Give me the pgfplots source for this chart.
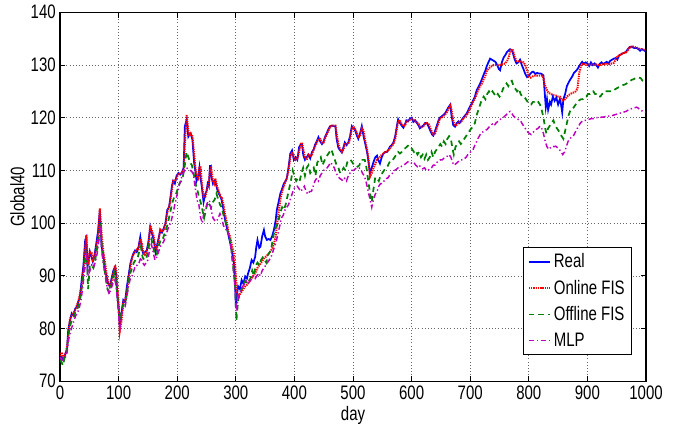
\documentclass[border=0pt]{standalone}
\usepackage{pgfplots}
\usepackage{pgfplotstable}
\usepackage{graphicx}
\usepackage{fontspec}
\setmainfont{Liberation Sans}
\pgfplotsset{compat=1.18}
\usetikzlibrary{calc}
\newcommand{\vs}[1]{\scalebox{1}[1.3]{#1}}
\newcommand{\lf}{\fontsize{11.25}{13}\selectfont}

\pgfplotstableread{
x y
0 74.5
3 74.6
6 74
9 75.2
12 76
14 79.7
17 81.5
20 82.9
23 82.5
26 83.8
29 84.2
31 85
34 86
37 89.2
40 92
43 96.8
45 97.3
47 91.7
49 93
51 94.6
54 93.5
56 92.7
59 94
62 96.2
65 98.5
68 102.5
71 95.5
74 94
77 91.1
80 89.5
82 88.6
85 88
88 89.5
91 91
94 91.7
96 90
98 86
100 84
102 80.3
105 83
108 85.4
111 85
114 87.9
117 90
120 92.3
123 93.5
125 94.2
128 94.8
131 94.5
134 95.5
137 97.4
140 95
142 94.2
145 94.5
148 94.8
151 96.5
154 99.3
157 98
160 96.8
163 94.5
165 95.5
168 97
171 98.6
174 98.2
177 99
180 100
183 102.5
186 103
188 104.5
191 107
193 108
196 107.5
199 109
202 109.5
205 109.2
208 109.6
211 110.5
213 118.3
216 119.6
219 116.4
221 116.8
223 117
226 115.8
229 111.3
231 110
233 108
236 109
238 110.6
240 108.5
242 106.9
245 104
248 105.6
250 106
252 107.5
254 107
256 111
258 109
261 107.5
263 108
265 108
268 106.5
271 105.6
274 105
276 104.3
279 102.5
282 100.5
285 99
288 97.4
290 96.5
293 94.8
295 93.5
297 92.3
299 88
300 84.1
302 86.5
304 88
307 87.5
310 89.2
313 88.5
316 89.9
319 89.5
321 90.5
324 91.5
327 93
330 92.5
333 93.6
335 95.5
337 96.8
340 95.3
342 95.5
345 97.5
348 98.7
350 97.5
353 96.8
356 97
359 96.8
362 97.5
365 98.7
368 100.5
370 102.5
373 104
376 105.6
379 106.5
382 107.5
385 108
387 108.5
390 110.6
393 113.2
396 113.8
399 112
402 112.5
405 112
408 114.4
411 115
413 115
415 113
418 112
421 112.5
424 113
427 112.3
430 113.5
433 114
435 114.8
438 115.5
441 116.3
444 115.5
447 115
450 115.5
452 116.3
455 117
458 117.8
461 118.4
464 118.5
467 118.4
470 118.4
472 116
475 114.3
478 113.8
481 113.4
484 114.5
486 115.3
489 114.8
492 115.3
495 116.5
498 118.4
501 118
504 117.5
507 116.5
509 116
512 117
515 118.4
518 116.5
521 115
524 113.5
526 112
529 109.4
532 110.5
535 111.6
538 112.5
541 112.8
543 112
546 111.3
549 112.5
552 113.2
555 113.5
558 113.5
560 113.8
563 114.5
566 114.8
569 115.3
572 116.5
575 118.5
577 119.7
580 119
583 118.5
586 118.1
589 118.8
591 119.5
594 119.3
597 119.8
600 120
603 119.2
606 119.5
609 119
612 118.5
614 118
617 118.3
620 118.5
623 119
626 119
629 118.3
632 117.5
635 116.8
637 116.6
640 117.5
643 118.5
646 119.5
648 120
651 120.2
654 120.5
657 120.8
660 121.4
663 122
666 122.5
668 120.5
671 118.6
674 118.3
677 119
680 119.3
682 119
685 119.5
688 120
691 120.4
694 120.8
697 121.5
700 122.2
703 122.8
705 123.3
708 124
711 125.2
714 125.8
717 126.5
720 127.3
723 128.2
726 129
728 129.7
731 130.5
734 131.2
737 131
740 130.8
743 130.6
746 130
749 129.2
751 129
754 130.5
757 131.4
760 131.9
763 132.5
766 132.8
768 133
771 132.8
773 132.2
776 131
779 130.3
782 130.5
785 131
788 130
791 129.2
794 128.3
797 127.7
800 127.9
803 128.4
806 128.7
808 128.7
811 128.3
814 128.5
817 128.4
820 128.4
823 128.2
825 128
827 125
829 122
831 123.5
833 121.5
836 123
838 122.5
841 124
844 123.2
847 123.8
850 122.5
853 123.5
855 122.5
857 121
859 123.5
862 124.5
865 126
868 126.7
871 127.3
874 127.8
877 128.5
880 128.8
883 129.2
886 129.8
889 130.3
891 130.6
894 130.2
897 130.5
900 130.3
903 129.8
906 130.5
909 130
912 130.3
915 130
918 129.5
921 130.2
924 130.5
927 130.2
930 130.4
933 130.6
936 130.3
939 130.8
942 131
945 131.2
948 131.3
951 131
954 131.8
957 132
960 132.2
963 132.3
966 132.5
969 133
972 133.4
975 133.5
978 133.3
981 133.2
984 133.2
987 133
990 132.7
993 133
996 132.8
999 132.6
}\realdata

\pgfplotstableread{
x y
0 74.8
3 75.5
6 74.5
9 75
12 76.5
14 78.5
17 81.8
20 82.5
23 83
26 83.5
29 84.5
31 85
34 86.5
37 88
40 91
43 95.5
45 97.8
47 93
49 92.5
51 94.5
54 94.5
56 93
59 93.5
62 95.5
65 97.5
68 102.8
71 98
74 94.5
77 92.5
80 90
82 89
85 88
88 89
91 90.5
94 92
96 91
98 88
100 85
102 79.5
105 81.5
108 85
111 85.5
114 86.5
117 89.5
120 91.5
123 93.5
125 94
128 94.5
131 95
134 95
137 97
140 96
142 94.5
145 94
148 94.5
151 96
154 99.6
157 98.5
160 97.5
163 95
165 95
168 96.5
171 98.8
174 98.5
177 98.8
180 99.8
183 102
186 103
188 104
191 106.5
193 108
196 108
199 108.5
202 109.5
205 109.3
208 109.5
211 110
213 115
216 120.5
219 117.5
221 116.5
223 117
226 116.5
229 113
231 110.5
233 109
236 108.5
238 110.5
240 110.8
242 107.5
245 105
248 105
250 106
252 107
254 107.5
256 110
258 110.5
261 108
263 107.5
265 108.5
268 107
271 106
274 105
276 104.8
279 103.5
282 101.5
285 100
288 98
290 97.5
293 96
295 95
297 94
299 92
300 90
302 87
304 86.2
307 86.5
310 87
313 87.5
316 88
319 88.3
321 88.6
324 89
327 89.5
330 90
333 90.5
335 91
337 91.5
340 92
342 92.3
345 92.8
348 93.3
350 93.5
353 93.8
356 94.2
359 94.6
362 95.2
365 96
368 97.5
370 99.5
373 102
376 104.5
379 106
382 107
385 108
387 108.5
390 110
393 112.5
396 113.5
399 112.5
402 112
405 112.3
408 113.5
411 115
413 115.3
415 114
418 112.5
421 112
424 113
427 112.8
430 113
433 114
435 114.5
438 115.2
441 116
444 116
447 115.2
450 115.3
452 116
455 116.8
458 117.5
461 118.3
464 118.5
467 118.5
470 118.5
472 117
475 115
478 114
481 113.5
484 114
486 115
489 115
492 115
495 116
498 118
501 118.3
504 117.8
507 117
509 116.3
512 116.5
515 118
518 117.5
521 115.5
524 114
526 112.5
529 108.8
532 109.5
535 110.5
538 111.2
541 112
543 112.3
546 112.5
549 113
552 113.2
555 113.5
558 113.6
560 113.8
563 114.2
566 114.6
569 115
572 116
575 118
577 119.3
580 119.5
583 118.8
586 118.4
589 118.5
591 119.2
594 119.5
597 119.6
600 119.8
603 119.6
606 119.3
609 119.2
612 118.8
614 118.3
617 118.2
620 118.4
623 118.8
626 119
629 118.8
632 118
635 117.2
637 116.8
640 117
643 118
646 119
648 119.8
651 120
654 120.3
657 120.6
660 121
663 121.7
666 122.3
668 121.5
671 119.5
674 118.5
677 118.6
680 119.1
682 119.2
685 119.3
688 119.8
691 120.2
694 120.5
697 121
700 121.8
703 122.5
705 123
708 123.6
711 124.5
714 125.3
717 126
720 126.5
723 127.3
726 128
728 128.8
731 129.3
734 129.6
737 129.8
740 130
743 130
746 130
749 130
751 130
754 130.1
757 130.2
760 130.3
763 130.8
766 131.5
768 132.5
771 133
773 132.8
776 131.5
779 130.8
782 130.7
785 130.7
788 130.6
791 130.5
794 130
797 129
800 127.8
803 127.6
806 127.8
808 127.9
811 128
814 128
817 128
820 128
823 128
825 127.5
827 126.3
829 125.8
831 125.2
833 124.8
836 124.6
838 124.5
841 124.3
844 124.2
847 124.2
850 124
853 124
855 123.7
857 123.3
859 123.3
862 123.5
865 124
868 124.3
871 124.5
874 124.7
877 124.8
880 125
883 125.5
886 128.5
889 129.8
891 130.2
894 130.2
897 130.1
900 130
903 130.1
906 130.1
909 130
912 130.1
915 130.1
918 130
921 130
924 130.1
927 130.1
930 130.1
933 130.2
936 130.1
939 130.2
942 130.3
945 130.4
948 131
951 131.7
954 131.8
957 132
960 132.2
963 132.3
966 132.4
969 132.8
972 133.3
975 133.4
978 133.5
981 133.4
984 133.3
987 133.2
990 133
993 133
996 132.9
999 132.8
}\onlinedata

\pgfplotstableread{
x y
0 74
3 73.5
5 73
8 74.5
11 75
14 78.5
17 80.5
20 81.5
23 82
26 83
29 83.5
32 84.5
35 86
38 88.5
41 91
44 94.5
46 93
48 87.5
51 92
54 92
57 91.5
60 93
63 95
66 97
69 100
72 94.5
75 92
78 89.5
81 87.5
84 87
87 88
90 89.5
93 90.5
96 88.5
99 85
102 81.5
105 83.5
108 84.5
111 84.5
114 86.5
117 89
120 90.5
123 91.5
126 92.5
129 93
132 93.2
135 94.5
138 95.5
141 93.5
144 93
147 93.2
150 94.5
153 96.5
156 97
159 95.5
162 94
165 94
168 95.5
171 96.5
174 96.5
177 97.5
180 98.5
183 99.5
186 101
189 102.5
192 104
195 105
198 105.5
201 106.5
204 107.5
207 108
210 109
213 111
216 113.5
219 112.5
222 111.5
225 111
228 109.5
231 107.5
234 106.5
237 105
240 104
243 102.5
246 101
249 102.5
252 104
255 103.5
258 103
261 104
264 104.5
267 105.6
270 104.5
273 103.5
276 103
279 101.5
282 100.5
285 99
288 97.5
291 96.5
294 93.5
297 90
299 88
301 81.5
304 85.5
307 86.5
310 87.5
313 88.5
316 89
319 88.5
322 89
325 89.5
328 91
331 90
334 92
337 92.5
340 92
343 93
346 93.5
349 93
352 92.5
355 94
358 94.5
361 95.5
364 97.5
367 99
370 99.5
373 100.5
376 102
379 103
382 102.5
385 103.5
388 105
391 106.5
394 108
397 110
400 109
403 108
406 108.5
409 108
412 109.5
415 110.5
418 109
421 110.5
424 111
427 109.5
430 110
433 110.5
436 109
439 111.5
442 112
445 112.5
448 111
451 111.8
454 112.5
457 113
460 113.5
463 114
466 113
469 112
472 111
475 110.5
478 109.5
481 110
484 110.5
487 110
490 111.5
493 112
496 112
499 111.5
502 111
505 111
508 110.7
511 111
514 112
517 112
520 112
523 110.5
526 108
528 106.5
530 105
532 104
535 106.5
538 108.7
541 108.5
544 108
547 109
550 109.5
553 110
556 110.5
559 110.8
562 111.5
565 112
568 112
571 112.5
574 113
577 113.5
580 113.2
583 113.5
586 114
589 114.2
592 114.5
595 114.8
598 114.5
601 114
604 113.5
607 113.8
610 113
613 113.5
616 112.5
619 113
622 112.2
625 113
628 112
631 112.5
634 113.5
637 112.5
640 113.5
643 114
646 114.5
649 115
652 114.5
655 115.5
658 115
661 116
664 116.5
667 116
670 114
672 113
675 114.5
678 115
681 115.5
684 115
687 115.5
690 116
693 116.5
696 117
699 117.5
702 118
705 118.2
708 119
711 120.5
714 121.5
717 122.5
720 123.5
723 124
726 123.5
729 124.5
732 125
735 124.5
738 125
741 124.5
744 124
747 124.5
750 124
753 124.5
756 125.5
759 126
762 126.5
765 126
768 126.8
771 127
774 126
777 125.5
780 125
783 125.5
786 124.5
789 124
792 124
795 123.5
798 123
801 122.6
804 122.5
807 123
810 123
813 123.3
816 123
819 122.5
822 121.5
825 120
828 118
830 117
833 118
836 118.5
839 119
842 119.5
845 118.5
848 118
851 117.5
853 117
856 116.5
859 116
862 117.5
865 119
868 120.5
871 121.4
874 121.5
877 122
880 122.5
883 123
886 123.3
889 123.5
892 123.5
895 124
898 124
901 124.5
904 124.5
907 125
910 125
913 124.5
916 124.5
919 124
922 124
925 124.5
928 124.5
931 125
934 125
937 125
940 125
943 125
946 125.3
949 125.5
952 125.7
955 125.8
958 126
961 126.2
964 126.3
967 126.5
970 126.8
973 127
976 127.2
979 127.3
982 127.5
985 127.5
988 127.6
991 127.5
994 127
997 126.8
999 127
}\offlinedata

\pgfplotstableread{
x y
0 74.5
3 74
6 74
9 74.5
12 75.5
15 78
18 79.5
21 80.5
24 81.5
27 82.5
30 83
33 84
36 85.5
39 88
42 91
45 93.5
48 90
51 91
54 92
57 91.5
60 92.5
63 94
66 96.5
69 98.5
72 94
75 91.5
78 89.5
81 87.5
84 86.5
87 87.5
90 88.5
93 89.5
96 88
99 84
102 80
105 82.5
108 84
111 84
114 86
117 88
120 89.5
123 90
126 91
129 92
132 92
135 92.5
138 93.5
141 92.5
144 92
147 92.5
150 93
153 95
156 96
159 94.5
162 93
165 93.5
168 94.5
171 95.5
174 96
177 96.5
180 97.5
183 98.5
186 99.5
189 100
192 101.5
195 103
198 104.5
201 106
204 107.5
207 108.5
210 109.5
213 110
216 110.5
219 110.2
222 110
225 109.8
228 109
231 106.5
234 104.3
237 103.5
240 101
243 100
246 102.5
249 103
252 104
255 104.3
258 102.5
261 101
264 100.5
267 100.3
270 101
273 101.8
276 101
279 99.5
282 99
285 98.5
288 98
291 96
294 93
297 90
299 87
301 84
303 85
306 86.5
309 87.5
312 88
315 88.5
318 89
321 88.5
324 89
327 89.5
330 90
333 89.5
336 90
339 90.5
342 90
345 91
348 91.5
351 92
354 92.5
357 93
360 93.5
363 94.5
366 95.5
369 96.5
372 98
375 99.5
378 101
381 101.5
384 102.5
387 103
390 103.5
393 104.5
396 105.5
399 106.5
402 107
405 107
408 106.5
411 106
414 106.5
417 107
420 106
423 105.5
426 106
429 106
432 107
435 108
438 108.5
441 108
444 109
447 109.5
450 110
453 110.3
456 110.5
459 111
462 111.5
465 111
468 110.5
471 109.5
474 109
477 108.5
480 108.3
483 108
486 108.5
489 108
492 109
495 109.5
498 110
501 110
504 110.3
507 110.5
510 110.5
513 110.3
516 109.5
519 109
522 108
525 106.5
528 105
530 104
532 103
535 104.5
538 105.5
541 106
544 107
547 107.5
550 107.5
553 108
556 108.5
559 108.5
562 109
565 109.3
568 109.5
571 110
574 110.2
577 110.5
580 110.5
583 110.8
586 111
589 111.2
592 111.5
595 111.7
598 111.5
601 111.3
604 111.5
607 111
610 110.7
613 111
616 110.5
619 110.3
622 110.5
625 110
628 110
631 110.3
634 110.5
637 111
640 111
643 111.5
646 111.8
649 112
652 112
655 112.3
658 112.5
661 112.7
664 113
667 112.5
670 111.5
672 111
675 111.2
678 111.5
681 111.8
684 112
687 112
690 112.2
693 112.5
696 113
699 113.3
702 113.7
705 114
708 114.8
711 115.5
714 116.2
717 116.8
720 117.2
723 117.4
726 117.6
729 117.8
732 118.2
735 118.5
738 118.8
741 118.5
744 119
747 119.3
750 119.6
753 119.8
756 120
759 120.3
762 120.6
765 121
768 121.2
771 120.8
774 120.3
777 120
780 119.8
783 119.6
786 119.4
789 118.8
792 118.3
795 117.8
798 117.3
801 117
804 116.8
807 117.2
810 117.5
813 117.8
816 118
819 118.4
822 118
825 117
828 115.5
831 114.5
834 114
837 114.3
840 114.6
843 114.5
846 114.6
849 114.3
852 114
855 113.5
858 113
861 113.5
864 114.5
867 115.5
870 116
873 116.3
876 116.5
879 117.2
882 117.8
885 118.4
888 119
891 119.3
894 119.5
897 119.5
900 119.6
903 119.7
906 119.8
909 119.8
912 119.9
915 120
918 120
921 120
924 120.1
927 120.1
930 120.2
933 120.2
936 120.3
939 120.3
942 120.4
945 120.5
948 120.6
951 120.7
954 120.8
957 120.9
960 121
963 121.1
966 121.2
969 121.4
972 121.6
975 121.7
978 121.8
981 121.9
984 122
987 121.8
990 121.5
993 121.3
996 121.1
999 121
}\mlpdata

\definecolor{mgreen}{rgb}{0,0.5,0}
\definecolor{mmag}{rgb}{0.75,0,0.75}

\begin{document}
\begin{tikzpicture}
\begin{axis}[
  scale only axis,
  width=439.5pt, height=276.75pt,
  xmin=0, xmax=1000, ymin=70, ymax=140,
  xtick={0,100,...,1000}, ytick={70,80,...,140},
  tick align=inside,
  major tick length=4pt,
  axis line style={line width=0.8pt},
  every tick/.style={black, line width=0.6pt},
  grid=major,
  major grid style={dotted, black!60, line width=0.5pt},
  /pgf/number format/assume math mode=true,
  xticklabel={\vs{\pgfmathprintnumber[1000 sep={}]{\tick}}},
  yticklabel={\vs{\pgfmathprintnumber{\tick}}},
  tick label style={font=\lf},
  xticklabel style={inner sep=1pt, yshift=-2pt},
  yticklabel style={inner sep=1pt, xshift=-2pt},
  xlabel={\vs{day}},
  ylabel={\vs{Global40}},
  label style={font=\lf},
  xlabel style={yshift=-1pt},
  ylabel style={yshift=0pt},
  legend style={
    font=\lf,
    at={(0.976,0.0705)}, anchor=south east,
    draw=black, line width=0.8pt,
    row sep=3.6pt, inner xsep=3pt, inner ysep=3pt,
    cells={anchor=west},
  },
  legend cell align=left,
  legend image code/.code={\draw[#1] (0pt,0pt) -- (16pt,0pt);},
]
\coordinate (SW) at (rel axis cs:0,0);
\coordinate (NE) at (rel axis cs:1,1);
\addplot[blue, line width=1.3pt] table[x=x,y=y] {\realdata};
\addlegendentry{\vs{Real}}
\addplot[red, line width=1.5pt, dash pattern=on 1pt off 0.7pt] table[x=x,y=y] {\onlinedata};
\addlegendentry{\vs{Online FIS}}
\addplot[mgreen, line width=1.3pt, dash pattern=on 4pt off 3pt] table[x=x,y=y] {\offlinedata};
\addlegendentry{\vs{Offline FIS}}
\addplot[mmag, line width=1.1pt, dash pattern=on 4pt off 2pt on 1pt off 2pt] table[x=x,y=y] {\mlpdata};
\addlegendentry{\vs{MLP}}
\end{axis}
\pgfresetboundingbox
\path[use as bounding box] ($(SW)+(-45pt,-33pt)$) rectangle ($(NE)+(25.5pt,9.2pt)$);
\end{tikzpicture}
\end{document}
